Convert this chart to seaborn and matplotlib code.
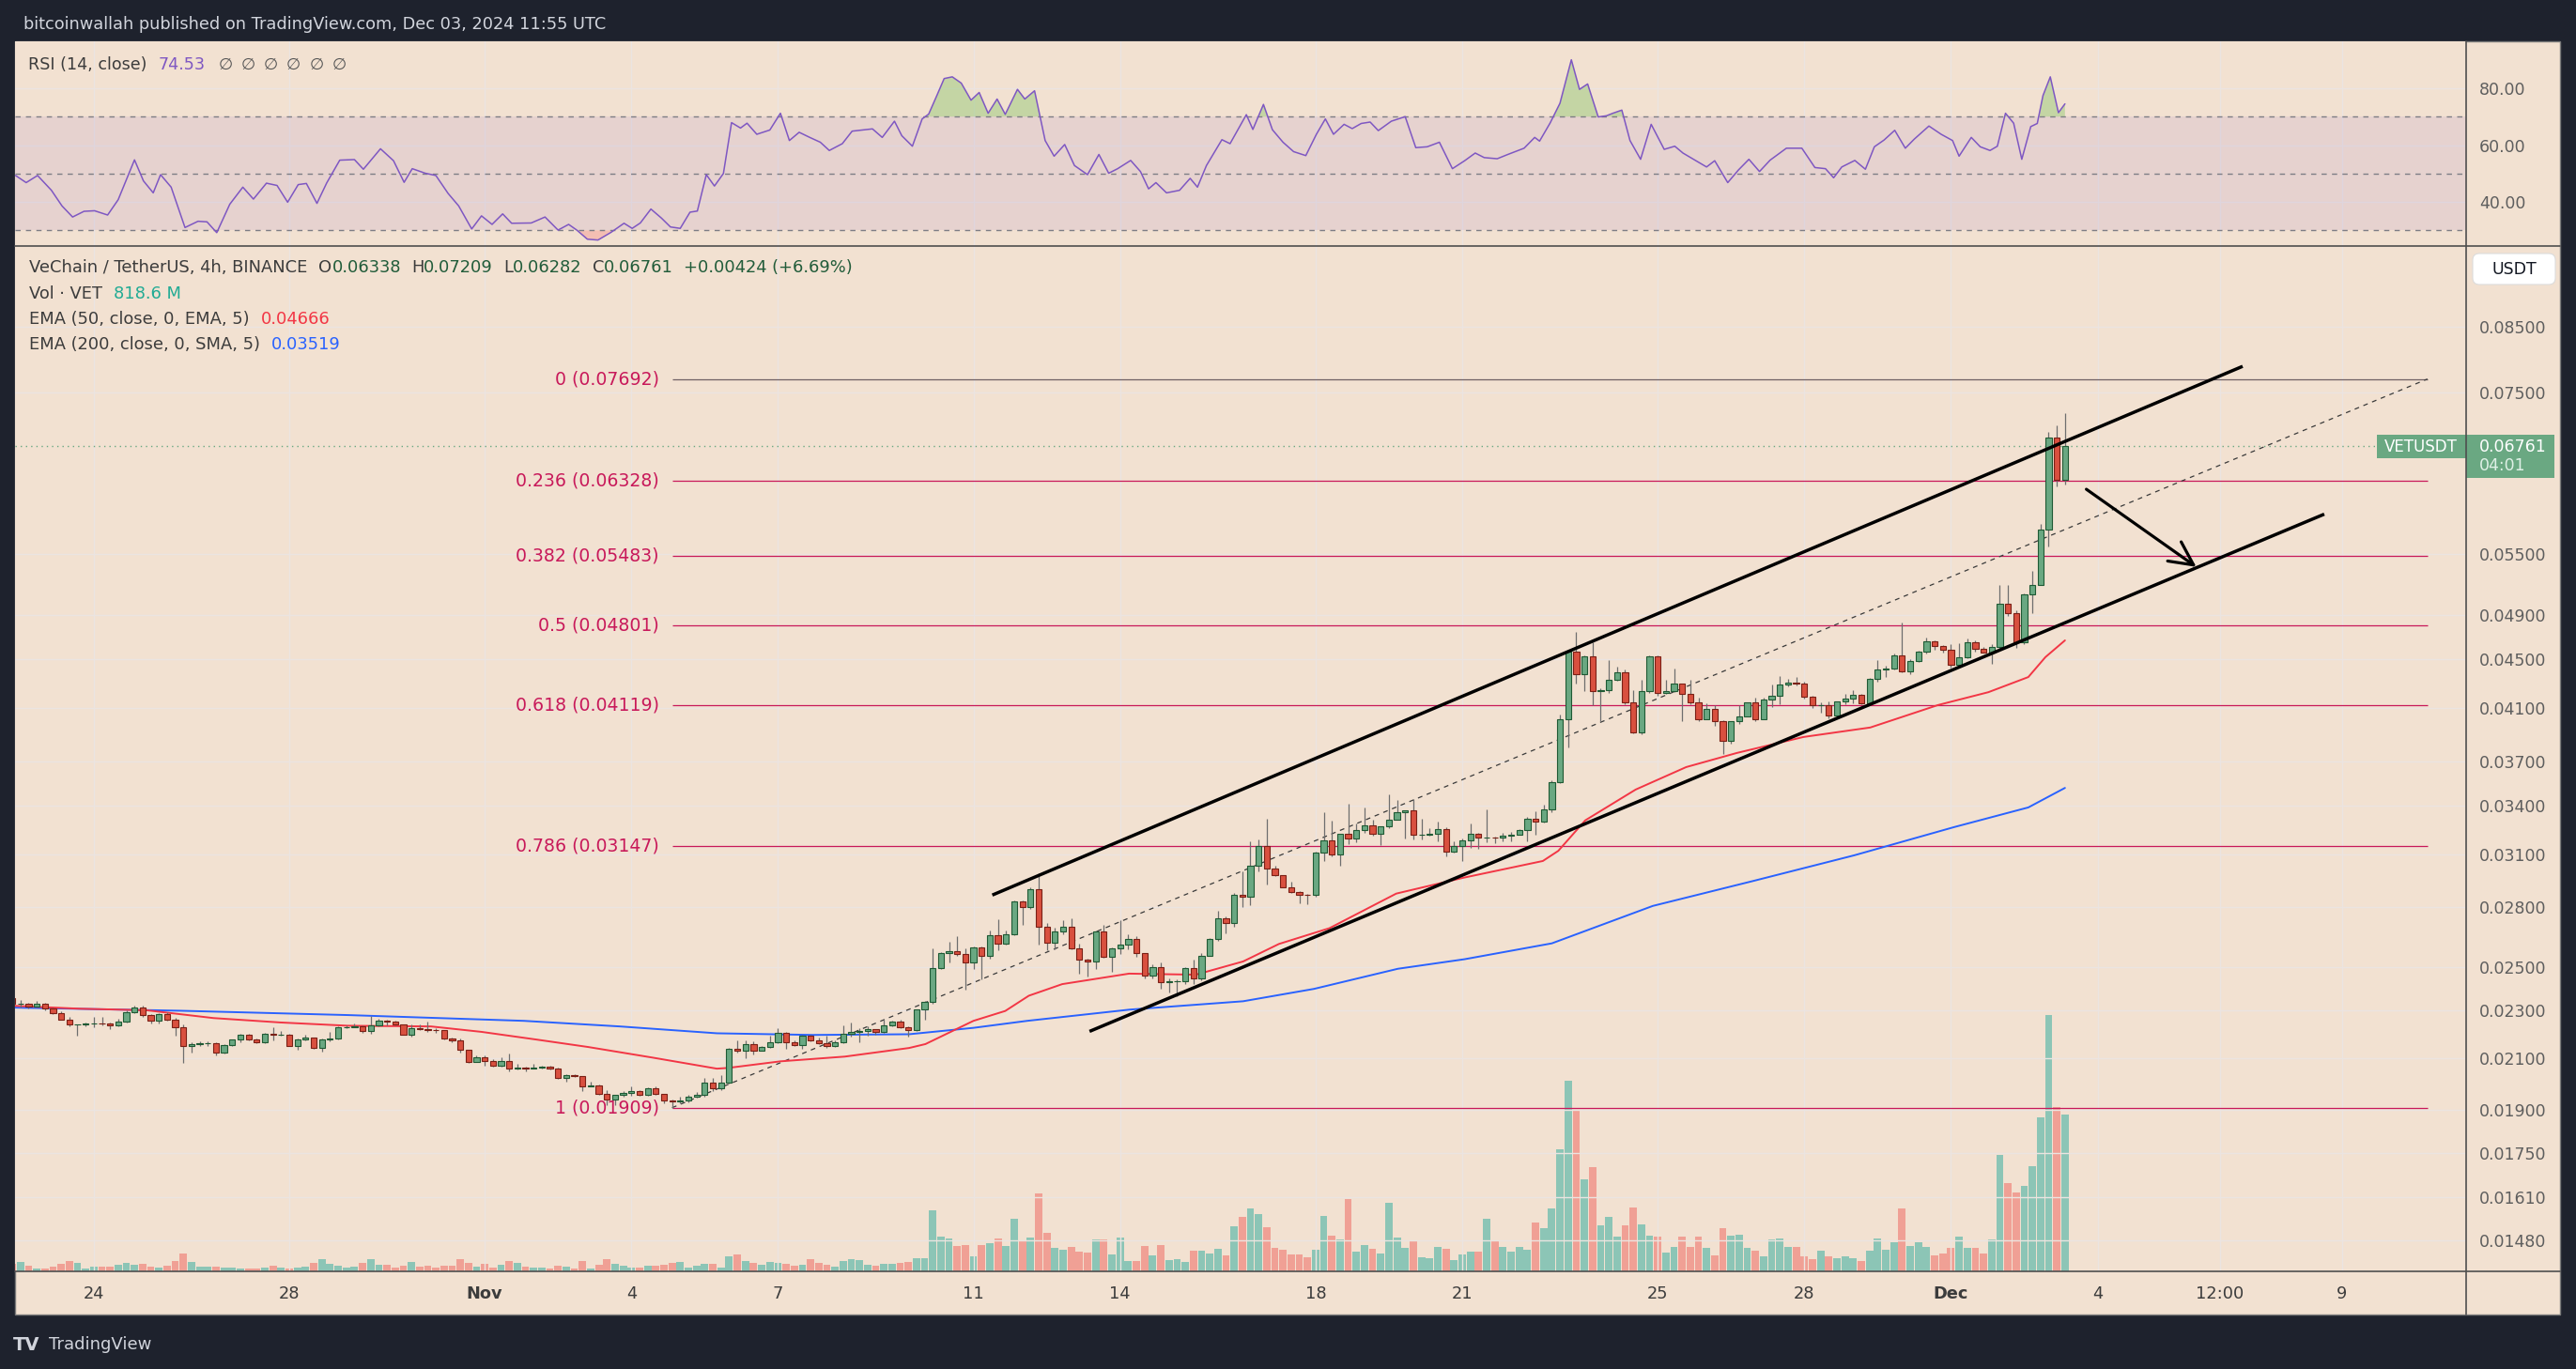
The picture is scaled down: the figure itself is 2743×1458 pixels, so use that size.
import numpy as np
import pandas as pd
import matplotlib
matplotlib.use("Agg")
import matplotlib.pyplot as plt
import matplotlib.dates as mdates
from matplotlib.patches import Rectangle, FancyBboxPatch
from matplotlib.ticker import FixedLocator, NullLocator
import seaborn as sns

W, H = 2743, 1458

# ---------------- data: VET/USDT 4h candles (Binance) ----------------
bar_start = "2024-10-22 08:00"
first_open = 0.02354

closes = [
    0.02327, 0.0233, 0.02318, 0.0233, 0.0231, 0.02286, 0.0226, 0.02238, 0.02238, 0.02244,
    0.02244, 0.02242, 0.02234, 0.0225, 0.0229, 0.02312, 0.02278, 0.02254, 0.02283, 0.0226,
    0.02226, 0.02148, 0.02156, 0.02158, 0.0216, 0.02121, 0.02152, 0.02174, 0.02195, 0.02176,
    0.02163, 0.022, 0.02193, 0.02196, 0.0215, 0.02174, 0.02183, 0.0214, 0.02176, 0.0218,
    0.02226, 0.02228, 0.0223, 0.0221, 0.02234, 0.02256, 0.0225, 0.02238, 0.02195, 0.02222,
    0.02217, 0.02216, 0.02213, 0.02181, 0.0217, 0.02132, 0.02083, 0.02103, 0.02087, 0.02068,
    0.02087, 0.02057, 0.0206, 0.02059, 0.0206, 0.02066, 0.02056, 0.0202, 0.02031, 0.02028,
    0.0199, 0.01992, 0.0196, 0.0194, 0.01956, 0.01965, 0.01972, 0.01956, 0.0198, 0.01959,
    0.01937, 0.01932, 0.01934, 0.01951, 0.01955, 0.02002, 0.0198, 0.02002, 0.02137, 0.0213,
    0.02156, 0.0213, 0.02143, 0.02162, 0.02202, 0.02165, 0.02153, 0.0219, 0.0217, 0.0216,
    0.0215, 0.02164, 0.02198, 0.02208, 0.0221, 0.02218, 0.02206, 0.02234, 0.02252, 0.02228,
    0.02214, 0.02302, 0.02336, 0.02492, 0.02565, 0.02575, 0.02562, 0.0252, 0.02594, 0.0255,
    0.02655, 0.02614, 0.02661, 0.0283, 0.02803, 0.0290, 0.02699, 0.02618, 0.02672, 0.027,
    0.02588, 0.02536, 0.02523, 0.02672, 0.02548, 0.02588, 0.02606, 0.02634, 0.02564, 0.02456,
    0.02497, 0.02426, 0.0243, 0.0243, 0.02494, 0.02444, 0.02554, 0.02636, 0.02744, 0.02718,
    0.0287, 0.02858, 0.03034, 0.03151, 0.03014, 0.02978, 0.02911, 0.02886, 0.02868, 0.02866,
    0.0311, 0.03184, 0.03099, 0.03223, 0.03197, 0.03244, 0.03277, 0.03223, 0.03268, 0.03314,
    0.0336, 0.0337, 0.03217, 0.0322, 0.03226, 0.03253, 0.03118, 0.03151, 0.03184, 0.03223,
    0.032, 0.032, 0.03198, 0.03214, 0.0322, 0.03246, 0.0332, 0.03302, 0.03378, 0.03558,
    0.04013, 0.04567, 0.04374, 0.04528, 0.04235, 0.04245, 0.04328, 0.04388, 0.04144, 0.03915,
    0.04235, 0.04523, 0.04218, 0.04235, 0.04298, 0.04213, 0.04144, 0.04013, 0.0409, 0.03998,
    0.03848, 0.03995, 0.04038, 0.04144, 0.04013, 0.04168, 0.04195, 0.04285, 0.04304, 0.04298,
    0.0419, 0.0412, 0.04125, 0.04045, 0.0415, 0.04176, 0.04203, 0.04138, 0.04337, 0.04411,
    0.0442, 0.04537, 0.04397, 0.04489, 0.04567, 0.04655, 0.04617, 0.04582, 0.04455, 0.04518,
    0.04646, 0.04592, 0.04562, 0.04605, 0.05005, 0.04914, 0.04646, 0.05098, 0.05192, 0.05763,
    0.06875, 0.06338, 0.06761,
]

highs = [
    0.0236, 0.02347, 0.02334, 0.0234, 0.02334, 0.02312, 0.02295, 0.0227, 0.0224, 0.02246,
    0.02272, 0.0227, 0.02246, 0.02262, 0.023, 0.0232, 0.0232, 0.02282, 0.02287, 0.0229,
    0.02267, 0.0224, 0.02162, 0.02166, 0.02166, 0.02162, 0.02155, 0.02176, 0.02197, 0.022,
    0.02178, 0.02202, 0.02227, 0.02212, 0.022, 0.0218, 0.02196, 0.02185, 0.0218, 0.02208,
    0.02232, 0.02236, 0.02242, 0.02236, 0.02276, 0.02262, 0.0226, 0.02254, 0.0224, 0.0224,
    0.0224, 0.0225, 0.02222, 0.02216, 0.02183, 0.0218, 0.02133, 0.02108, 0.02108, 0.02096,
    0.02102, 0.02119, 0.02077, 0.02066, 0.02077, 0.0207, 0.02068, 0.0206, 0.02034, 0.02034,
    0.02028, 0.02005, 0.01996, 0.01974, 0.01958, 0.01972, 0.0199, 0.01975, 0.01985, 0.0199,
    0.0196, 0.01938, 0.01948, 0.01956, 0.01967, 0.0202, 0.0202, 0.0203, 0.0214, 0.02172,
    0.0217, 0.02168, 0.02148, 0.0219, 0.02222, 0.02208, 0.0217, 0.02194, 0.02196, 0.02183,
    0.0219, 0.02172, 0.02236, 0.02246, 0.02224, 0.02232, 0.0222, 0.0226, 0.02256, 0.02258,
    0.02232, 0.02306, 0.0234, 0.02588, 0.0257, 0.0262, 0.02648, 0.0259, 0.026, 0.02598,
    0.0268, 0.02738, 0.0268, 0.02836, 0.02836, 0.0291, 0.0299, 0.0272, 0.02694, 0.02734,
    0.0274, 0.02614, 0.0254, 0.0268, 0.0271, 0.02592, 0.02734, 0.02662, 0.0265, 0.02566,
    0.0251, 0.02522, 0.02446, 0.0244, 0.02498, 0.02536, 0.02568, 0.0264, 0.02784, 0.0275,
    0.0288, 0.03, 0.03178, 0.0319, 0.03317, 0.03034, 0.0298, 0.02942, 0.02888, 0.02875,
    0.03115, 0.03357, 0.03308, 0.03226, 0.03413, 0.03286, 0.0339, 0.0331, 0.0327, 0.03473,
    0.0344, 0.03372, 0.03443, 0.03317, 0.0326, 0.033, 0.03262, 0.0318, 0.03192, 0.03286,
    0.03228, 0.03377, 0.03205, 0.0323, 0.03235, 0.03252, 0.0333, 0.03368, 0.0341, 0.0357,
    0.0405, 0.04575, 0.04742, 0.04535, 0.0465, 0.0426, 0.04494, 0.04435, 0.0441, 0.0424,
    0.04328, 0.04535, 0.04532, 0.04328, 0.04418, 0.043, 0.04328, 0.0418, 0.04135, 0.04125,
    0.04004, 0.04, 0.04125, 0.04147, 0.0418, 0.0418, 0.04285, 0.0436, 0.04335, 0.04352,
    0.0431, 0.04195, 0.04148, 0.04155, 0.04152, 0.0421, 0.0424, 0.04215, 0.0434, 0.04494,
    0.04442, 0.0455, 0.0483, 0.04498, 0.04575, 0.04695, 0.04668, 0.04625, 0.0463, 0.0464,
    0.04685, 0.0467, 0.04605, 0.0463, 0.05192, 0.0519, 0.04945, 0.05105, 0.05325, 0.05825,
    0.0695, 0.0704, 0.07209,
]

lows = [
    0.0232, 0.02314, 0.0231, 0.02315, 0.0230, 0.02284, 0.02258, 0.02232, 0.0219, 0.02232,
    0.02228, 0.02236, 0.0222, 0.02232, 0.02246, 0.02286, 0.02272, 0.02242, 0.02242, 0.02254,
    0.0219, 0.02078, 0.02123, 0.02148, 0.0215, 0.02108, 0.02118, 0.0215, 0.02162, 0.02172,
    0.0216, 0.0216, 0.02172, 0.02192, 0.02148, 0.02132, 0.0217, 0.02138, 0.02124, 0.02168,
    0.02176, 0.02222, 0.02225, 0.02203, 0.022, 0.0223, 0.02236, 0.02236, 0.02193, 0.02188,
    0.02215, 0.02207, 0.02204, 0.02176, 0.02165, 0.0212, 0.02081, 0.02083, 0.0207, 0.02066,
    0.02066, 0.02047, 0.02055, 0.02048, 0.02056, 0.02058, 0.02052, 0.02018, 0.02008, 0.02025,
    0.0197, 0.01988, 0.01958, 0.01918, 0.01918, 0.0195, 0.01952, 0.01953, 0.01952, 0.01956,
    0.01926, 0.01909, 0.01925, 0.0193, 0.01945, 0.0195, 0.01972, 0.01975, 0.02, 0.0212,
    0.02098, 0.02112, 0.02128, 0.0214, 0.0216, 0.02138, 0.0215, 0.02136, 0.02166, 0.02156,
    0.0214, 0.02146, 0.0216, 0.02186, 0.02165, 0.02192, 0.02194, 0.02204, 0.0223, 0.02224,
    0.02186, 0.0221, 0.02258, 0.0233, 0.02488, 0.0252, 0.0255, 0.02394, 0.0249, 0.0244,
    0.0254, 0.02578, 0.02608, 0.02653, 0.0271, 0.0279, 0.02606, 0.0258, 0.02583, 0.0266,
    0.02586, 0.02466, 0.02455, 0.0249, 0.02545, 0.02476, 0.0256, 0.02584, 0.02546, 0.02444,
    0.02444, 0.02398, 0.0238, 0.02364, 0.0242, 0.0242, 0.02436, 0.0255, 0.02628, 0.02667,
    0.027, 0.02804, 0.02812, 0.03, 0.02924, 0.02975, 0.02908, 0.02876, 0.02821, 0.02818,
    0.0286, 0.03058, 0.03085, 0.03035, 0.03162, 0.0317, 0.03232, 0.0321, 0.03157, 0.0326,
    0.0331, 0.03196, 0.0319, 0.03187, 0.0321, 0.0318, 0.03089, 0.0311, 0.0306, 0.0314,
    0.0313, 0.0317, 0.03165, 0.0318, 0.03177, 0.0322, 0.0318, 0.0322, 0.03295, 0.0336,
    0.0355, 0.03803, 0.04295, 0.04235, 0.04123, 0.04, 0.0422, 0.0432, 0.0413, 0.03905,
    0.039, 0.0422, 0.04196, 0.0421, 0.0423, 0.04, 0.04132, 0.04, 0.0401, 0.0396,
    0.03752, 0.03828, 0.0398, 0.04032, 0.04, 0.0401, 0.04111, 0.04132, 0.0427, 0.04283,
    0.04176, 0.041, 0.0406, 0.0402, 0.0403, 0.0413, 0.0414, 0.04128, 0.04128, 0.04315,
    0.0435, 0.04414, 0.0439, 0.04372, 0.0448, 0.0455, 0.04585, 0.04558, 0.0443, 0.04447,
    0.0451, 0.04568, 0.04558, 0.0446, 0.0459, 0.0489, 0.04596, 0.04632, 0.04914, 0.05185,
    0.0558, 0.0626, 0.06282,
]

# volume per candle, millions of VET
volumes_m = [
    40, 49, 29, 16, 16, 25, 39, 54, 44, 16,
    25, 25, 25, 34, 44, 34, 39, 25, 20, 29,
    54, 93, 49, 25, 25, 25, 20, 20, 16, 16,
    16, 20, 29, 20, 16, 20, 25, 44, 64, 39,
    29, 20, 25, 44, 64, 34, 34, 20, 29, 49,
    25, 29, 20, 29, 29, 64, 44, 25, 39, 20,
    34, 54, 44, 25, 20, 20, 15, 29, 25, 15,
    54, 15, 34, 64, 39, 29, 20, 20, 29, 29,
    34, 44, 49, 20, 29, 39, 39, 20, 79, 88,
    54, 44, 34, 49, 44, 39, 29, 34, 64, 44,
    34, 25, 54, 64, 59, 34, 29, 39, 39, 44,
    49, 69, 69, 319, 182, 172, 133, 138, 79, 138,
    147, 172, 133, 275, 157, 175, 409, 201, 125, 113,
    130, 105, 100, 165, 165, 88, 175, 53, 53, 133,
    83, 138, 60, 65, 48, 108, 108, 93, 120, 83,
    238, 286, 331, 301, 231, 123, 113, 88, 88, 73,
    113, 291, 186, 165, 376, 103, 138, 118, 93, 359,
    175, 125, 163, 73, 68, 128, 118, 58, 88, 103,
    103, 276, 158, 128, 103, 128, 113, 256, 226, 331,
    639, 998, 845, 483, 545, 239, 283, 180, 239, 336,
    247, 188, 180, 100, 130, 180, 130, 180, 121, 85,
    224, 188, 194, 121, 106, 77, 168, 174, 130, 130,
    80, 62, 109, 80, 71, 80, 71, 56, 106, 174,
    115, 150, 330, 135, 150, 130, 85, 94, 121, 183,
    121, 121, 91, 165, 607, 462, 415, 445, 548, 807,
    1343, 860, 822,
]

# indicator traces (bar index -> value)
ema50_bar = [0, 8.2, 16.5, 24.7, 32.9, 41.2, 51.4, 57.6, 64.5, 70.7, 78.6, 86.5, 87.9, 94.3,
             102.2, 110.1, 112.1, 118, 121.9, 124.8, 128.9, 137.1, 145.3, 151.1, 155.5, 161.7,
             169.9, 178.1, 187.9, 189.8, 193.1, 199.3, 205.5, 211.7, 219.9, 228.1, 236.4, 242.6,
             247.5, 249.6, 252]
ema50 = [0.0232, 0.02307, 0.023, 0.02266, 0.02247, 0.02233, 0.0223, 0.02207, 0.02174, 0.02144,
         0.02101, 0.02057, 0.0206, 0.02086, 0.02105, 0.0214, 0.02156, 0.02254, 0.02297, 0.02365,
         0.02418, 0.02467, 0.02462, 0.02525, 0.02611, 0.02691, 0.02875, 0.02963, 0.0306, 0.0312,
         0.03307, 0.03508, 0.03662, 0.03762, 0.03879, 0.0395, 0.04123, 0.04226, 0.0435, 0.04519,
         0.04666]
ema200_bar = [0, 20.6, 41.2, 62.8, 74.6, 86.5, 98.3, 110.1, 118, 124.6, 137.2, 151.1, 159.8,
              170.1, 178.3, 189, 201.4, 213.7, 226.1, 238.4, 247.5, 252]
ema200 = [0.02312, 0.02298, 0.02279, 0.02254, 0.0223, 0.02201, 0.02194, 0.02197, 0.02224,
          0.02254, 0.02303, 0.0234, 0.02396, 0.0249, 0.02536, 0.02614, 0.02808, 0.02945,
          0.03093, 0.03265, 0.0339, 0.03519]

rsi_bar = [
    0.4, 1.7, 3.1, 4.8, 6.1, 7.4, 8.8, 10.1, 11.7, 13.0,
    15.0, 16.1, 17.3, 18.2, 19.5, 21.2, 22.8, 23.9, 25.1, 26.7,
    28.3, 29.6, 31.2, 32.5, 33.8, 35.1, 36.1, 37.4, 38.6, 40.2,
    42.0, 43.1, 45.2, 46.8, 48.1, 49.1, 50.7, 52.0, 53.5, 54.8,
    56.4, 57.6, 58.9, 60.2, 61.3, 63.7, 65.4, 67.0, 68.3, 69.3,
    70.6, 71.9, 73.5, 75.1, 76.1, 77.1, 78.4, 79.7, 80.8, 82.0,
    83.2, 84.1, 85.2, 86.2, 87.3, 88.3, 89.4, 90.2, 91.4, 93.0,
    94.3, 95.4, 96.6, 97.9, 99.2, 100.3, 101.9, 103.1, 104.4, 105.6,
    106.8, 108.3, 109.2, 110.5, 111.7, 112.5, 113.5, 114.4, 115.4, 116.5,
    117.7, 118.7, 119.8, 120.9, 121.9, 123.4, 124.3, 125.5, 126.8, 127.9,
    129.2, 130.4, 132.0, 133.4, 134.6, 135.7, 137.3, 138.5, 139.5, 140.4,
    141.7, 143.3, 144.6, 145.5, 146.6, 148.5, 149.5, 151.5, 152.3, 153.6,
    154.7, 156.0, 157.3, 158.8, 160.1, 161.2, 162.2, 163.5, 164.5, 165.6,
    166.7, 167.7, 169.3, 171.0, 172.3, 173.7, 175.2, 176.8, 178.3, 179.6,
    180.7, 182.3, 183.6, 185.6, 186.9, 187.5, 188.8, 190.0, 191.4, 192.4,
    193.4, 194.7, 195.7, 196.5, 197.6, 198.6, 199.9, 201.2, 202.8, 204.1,
    205.1, 206.4, 208.0, 209.0, 210.6, 211.9, 213.2, 214.5, 215.8, 217.8,
    219.7, 221.3, 222.6, 223.6, 224.6, 226.2, 227.5, 228.6, 229.8, 231.1,
    232.4, 233.5, 235.3, 236.8, 238.2, 239.0, 240.5, 241.6, 242.8, 243.7,
    244.7, 245.7, 246.7, 247.8, 248.6, 249.3, 250.2, 251.2, 252.0,
]
rsi = [
    49.3, 46.8, 49.3, 44.1, 38.6, 34.7, 36.7, 36.9, 35.4, 40.8,
    54.8, 47.4, 43.2, 49.6, 45.2, 31.0, 33.2, 33.0, 29.2, 39.2,
    45.2, 41.0, 46.6, 45.8, 39.9, 46.1, 46.5, 39.5, 46.7, 54.7,
    54.9, 51.5, 58.7, 54.5, 46.9, 51.7, 50.1, 49.3, 43.0, 38.6,
    30.5, 35.1, 32.1, 35.8, 32.5, 32.6, 34.7, 30.1, 32.1, 30.1,
    26.9, 26.6, 29.3, 32.5, 30.7, 32.6, 37.5, 34.3, 31.2, 30.7,
    36.4, 36.8, 49.6, 45.6, 50.0, 67.9, 66.0, 67.7, 63.8, 65.3,
    71.2, 61.6, 64.5, 62.7, 61.0, 58.1, 60.5, 64.9, 65.3, 65.7,
    62.7, 68.4, 63.3, 59.6, 69.2, 70.9, 77.4, 83.4, 84.0, 81.8,
    75.8, 78.5, 71.2, 76.2, 70.8, 79.6, 76.2, 79.1, 61.6, 56.1,
    60.2, 52.8, 49.6, 56.7, 50.1, 51.7, 54.6, 50.7, 44.6, 46.8,
    43.2, 44.1, 48.3, 45.2, 52.8, 61.9, 60.5, 70.7, 65.5, 74.3,
    65.4, 61.0, 57.7, 56.3, 63.8, 69.2, 63.8, 67.3, 65.8, 67.6,
    68.1, 65.1, 68.4, 70.0, 59.1, 59.4, 61.0, 51.7, 54.5, 57.2,
    55.6, 55.2, 56.7, 58.9, 62.7, 61.4, 67.8, 74.7, 90.0, 79.6,
    81.5, 69.9, 70.3, 71.2, 72.3, 61.6, 55.0, 67.3, 58.5, 59.6,
    57.2, 55.0, 52.3, 54.5, 46.8, 51.2, 55.0, 50.7, 54.7, 58.9,
    58.9, 52.1, 51.7, 48.5, 52.3, 54.6, 51.5, 59.4, 61.8, 65.2,
    58.9, 62.1, 66.7, 63.8, 61.6, 56.1, 62.7, 59.4, 58.1, 59.6,
    71.2, 67.7, 55.0, 66.5, 67.6, 77.4, 84.0, 71.4, 74.5,
]

# drawings
fib_ratios = [0, 0.236, 0.382, 0.5, 0.618, 0.786, 1]
fib_prices = [0.07692, 0.06328, 0.05483, 0.04801, 0.04119, 0.03147, 0.01909]
fib_span = ["2024-11-04 20:00", "2024-12-10 18:00"]
upper_channel = (["2024-11-11 09:15", "2024-12-06 23:15"], [0.02867, 0.07881])
lower_channel = (["2024-11-13 09:00", "2024-12-08 15:20"], [0.02209, 0.0594])
arrow_from = ("2024-12-03 18:30", 0.0623)
arrow_to = ("2024-12-06 00:30", 0.0537)
last_price = 0.06761

price_ticks = [0.085, 0.075, 0.055, 0.049, 0.045, 0.041, 0.037, 0.034, 0.031, 0.028,
               0.025, 0.023, 0.021, 0.019, 0.0175, 0.0161, 0.0148]
rsi_ticks = [80, 60, 40]
date_ticks = ["2024-10-24", "2024-10-28", "2024-11-01", "2024-11-04", "2024-11-07",
              "2024-11-11", "2024-11-14", "2024-11-18", "2024-11-21", "2024-11-25",
              "2024-11-28", "2024-12-01", "2024-12-04", "2024-12-06 12:00", "2024-12-09"]
date_labels = ["24", "28", "Nov", "4", "7", "11", "14", "18", "21", "25", "28", "Dec",
               "4", "12:00", "9"]
x_range = ["2024-10-22 09:20", "2024-12-11 13:00"]

# ---------------- style ----------------
sns.set_theme(style="white")
plt.rcParams["font.family"] = ["DejaVu Sans"]

BG = "#f2e1d1"
DARK = "#1e222d"
GRID = "#ebe4e1"
SEP = "#4f4f4f"
CG, CGE = "#6aa882", "#1f5a34"
CR, CRE = "#d9503f", "#7a2016"
VG, VR = "#8cc5b6", "#f0a095"
WICK = "#6e6e6e"
FIB = "#c8195a"
AXTXT = "#5e5e5e"
TXT = "#3c3c3c"


def dnum(s):
    return mdates.date2num(pd.Timestamp(s))


step = 1 / 6
t0 = dnum(bar_start)
n = len(closes)
x = t0 + np.arange(n) * step
c = np.array(closes)
o = np.array([first_open] + closes[:-1])
hi = np.array(highs)
lo = np.array(lows)
vol = np.array(volumes_m)
up = c >= o

fig = plt.figure(figsize=(W / 100, H / 100), dpi=100)
fig.patch.set_facecolor(DARK)


def frame(l, t, r, b):
    return [l / W, 1 - b / H, (r - l) / W, (b - t) / H]


under = fig.add_axes([0, 0, 1, 1], zorder=0)
under.set_xlim(0, W)
under.set_ylim(H, 0)
under.axis("off")
under.add_patch(Rectangle((16, 44), 2710, 1356, facecolor=BG, edgecolor="#7a7a7a", lw=1))

ax_r = fig.add_axes(frame(16, 44, 2626, 262), zorder=1)
ax_v = fig.add_axes(frame(16, 262, 2626, 1354), zorder=1)
ax = fig.add_axes(frame(16, 262, 2626, 1354), zorder=2, sharex=ax_v)

for a in (ax_r, ax_v, ax):
    for s in a.spines.values():
        s.set_visible(False)
ax_r.set_facecolor(BG)
ax_v.set_facecolor(BG)
ax.patch.set_visible(False)
xlim = (dnum(x_range[0]), dnum(x_range[1]))
tick_x = [dnum(d) for d in date_ticks]

# ---------------- volume ----------------
ax_v.bar(x, vol, width=step * 0.9, color=np.where(up, VG, VR), linewidth=0)
ax_v.set_ylim(0, 5365)
ax_v.tick_params(left=False, bottom=False, labelleft=False, labelbottom=False)

# ---------------- price ----------------
ax.set_yscale("log")
ax.set_axisbelow(True)
ax.grid(True, color=GRID, lw=1.0)
ax.hlines(fib_prices, dnum(fib_span[0]), dnum(fib_span[1]),
          colors=["#6e5f63"] + [FIB] * (len(fib_prices) - 1), lw=0.9, zorder=1.5)
for r, p in zip(fib_ratios, fib_prices):
    ax.annotate(f"{r:g} ({p:.5f})", xy=(dnum(fib_span[0]), p), xytext=(-10, 0),
                textcoords="offset points", ha="right", va="center", color=FIB, fontsize=13.6)
ax.plot([dnum(fib_span[0]), dnum(fib_span[1])], [fib_prices[-1], fib_prices[0]],
        color="#3a3a3a", lw=0.9, ls=(0, (4, 4)), zorder=1.6)
ax.axhline(last_price, color=CG, lw=1.0, ls=(0, (1, 3)), zorder=1.6)

sns.lineplot(x=t0 + np.array(ema200_bar) * step, y=ema200, ax=ax, color="#2962ff", lw=1.4,
             zorder=2)
sns.lineplot(x=t0 + np.array(ema50_bar) * step, y=ema50, ax=ax, color="#f23645", lw=1.4,
             zorder=2)

ax.vlines(x, lo, hi, color=WICK, lw=0.9, zorder=3)
ax.bar(x, np.abs(c - o), bottom=np.minimum(c, o), width=step * 0.72,
       color=np.where(up, CG, CR), edgecolor=np.where(up, CGE, CRE), linewidth=0.8, zorder=4)

for xs, ys in (upper_channel, lower_channel):
    ax.plot([dnum(v) for v in xs], ys, color="black", lw=2.5, solid_capstyle="butt", zorder=5)
ax.annotate("", xy=(dnum(arrow_to[0]), arrow_to[1]), xytext=(dnum(arrow_from[0]), arrow_from[1]),
            arrowprops=dict(arrowstyle="->,head_length=0.9,head_width=0.45", color="black",
                            lw=2.3, mutation_scale=20, shrinkA=0, shrinkB=0), zorder=5)

ax.set_xlim(*xlim)
ax.set_ylim(0.01396, 0.0992)
ax.yaxis.set_major_locator(FixedLocator(price_ticks))
ax.yaxis.set_minor_locator(NullLocator())
ax.set_yticklabels([f"{p:.5f}" for p in price_ticks])
ax.yaxis.tick_right()
ax.set_xticks(tick_x)
ax.set_xticklabels(date_labels)
ax.tick_params(axis="y", length=0, pad=10, labelsize=12.5, labelcolor=AXTXT)
ax.tick_params(axis="x", length=0, pad=11, labelsize=12.8, labelcolor=TXT)
for lab in ax.get_xticklabels():
    if lab.get_text() in ("Nov", "Dec"):
        lab.set_fontweight("bold")
ax.set_xlabel("")
ax.set_ylabel("")

# ---------------- RSI ----------------
rx = t0 + np.array(rsi_bar) * step
rv = np.array(rsi)
ax_r.set_axisbelow(True)
ax_r.grid(True, color=GRID, lw=1.0)
ax_r.axhspan(30, 70, color="#7e57c2", alpha=0.1, lw=0)
ax_r.hlines([30, 50, 70], *xlim, colors="#7d7d85", lw=1.0, linestyles=(0, (4, 4)))
ax_r.fill_between(rx, 70, rv, where=rv > 70, interpolate=True, color="#8cc76e", alpha=0.45, lw=0)
ax_r.fill_between(rx, 30, rv, where=rv < 30, interpolate=True, color="#f7a8a0", alpha=0.6, lw=0)
sns.lineplot(x=rx, y=rv, ax=ax_r, color="#7e57c2", lw=1.1)
ax_r.set_xlim(*xlim)
ax_r.set_ylim(24.5, 96.5)
ax_r.set_xticks(tick_x)
ax_r.set_yticks(rsi_ticks)
ax_r.set_yticklabels([f"{v:.2f}" for v in rsi_ticks])
ax_r.yaxis.tick_right()
ax_r.tick_params(axis="y", length=0, pad=10, labelsize=12.5, labelcolor=AXTXT)
ax_r.tick_params(axis="x", length=0, labelbottom=False)
ax_r.set_xlabel("")
ax_r.set_ylabel("")

# ---------------- overlay: separators, tags and legends ----------------
ov = fig.add_axes([0, 0, 1, 1], zorder=5)
ov.set_xlim(0, W)
ov.set_ylim(H, 0)
ov.axis("off")
ov.patch.set_visible(False)
ov.plot([16, 2726], [262, 262], color=SEP, lw=1.2)
ov.plot([16, 2726], [1354, 1354], color=SEP, lw=1.2)
ov.plot([2626, 2626], [44, 1400], color=SEP, lw=1.2)

# last price tags
y_last = H - ax.transData.transform((x[-1], last_price))[1]
ov.add_patch(Rectangle((2531, y_last - 12), 95, 25, facecolor=CG, lw=0))
ov.text(2578, y_last + 0.5, "VETUSDT", color="white", ha="center", va="center", fontsize=12)
ov.add_patch(Rectangle((2626, y_last - 12), 94, 46, facecolor=CG, lw=0))
ov.text(2640, y_last + 1, f"{last_price:.5f}", color="white", ha="left", va="center",
        fontsize=12.5)
ov.text(2640, y_last + 21, "04:01", color="#dff0e6", ha="left", va="center", fontsize=12.5)

ov.add_patch(FancyBboxPatch((2633, 270), 88, 33, boxstyle="round,pad=0,rounding_size=7",
                            facecolor="white", edgecolor="#dcdcdc", lw=0.8))
ov.text(2677, 287, "USDT", color="#131722", ha="center", va="center", fontsize=12.5)

renderer = fig.canvas.get_renderer()


def text_run(x0, y0, parts, size=12.9):
    xx = x0
    for s, col, gap in parts:
        t = ov.text(xx, y0, s, color=col, fontsize=size, ha="left", va="center")
        bb = t.get_window_extent(renderer)
        xx += bb.width + gap


ov.text(25, 26, "bitcoinwallah published on TradingView.com, Dec 03, 2024 11:55 UTC",
        color="#d1d4dc", fontsize=12.8, ha="left", va="center")

OHLC = "#225c3a"
text_run(30, 69, [("RSI (14, close)", TXT, 12), ("74.53", "#7e57c2", 14)]
         + [("\u2205", "#555555", 9)] * 6, size=12.6)
text_run(31, 285, [("VeChain / TetherUS, 4h, BINANCE", TXT, 12),
                   ("O", TXT, 0), ("0.06338", OHLC, 11), ("H", TXT, 0), ("0.07209", OHLC, 11),
                   ("L", TXT, 0), ("0.06282", OHLC, 11), ("C", TXT, 0), ("0.06761", OHLC, 11),
                   ("+0.00424 (+6.69%)", OHLC, 0)])
text_run(31, 313, [("Vol \u00b7 VET", TXT, 12), ("818.6 M", "#22ab94", 0)])
text_run(31, 340, [("EMA (50, close, 0, EMA, 5)", TXT, 12), ("0.04666", "#f23645", 0)])
text_run(31, 367, [("EMA (200, close, 0, SMA, 5)", TXT, 12), ("0.03519", "#2962ff", 0)])

ov.text(14, 1432, "TV", color="#d1d4dc", fontsize=14, fontweight="bold", ha="left", va="center")
ov.text(52, 1432, "TradingView", color="#d1d4dc", fontsize=13, ha="left", va="center")

fig.savefig("out.png", dpi=100, facecolor=fig.get_facecolor())
